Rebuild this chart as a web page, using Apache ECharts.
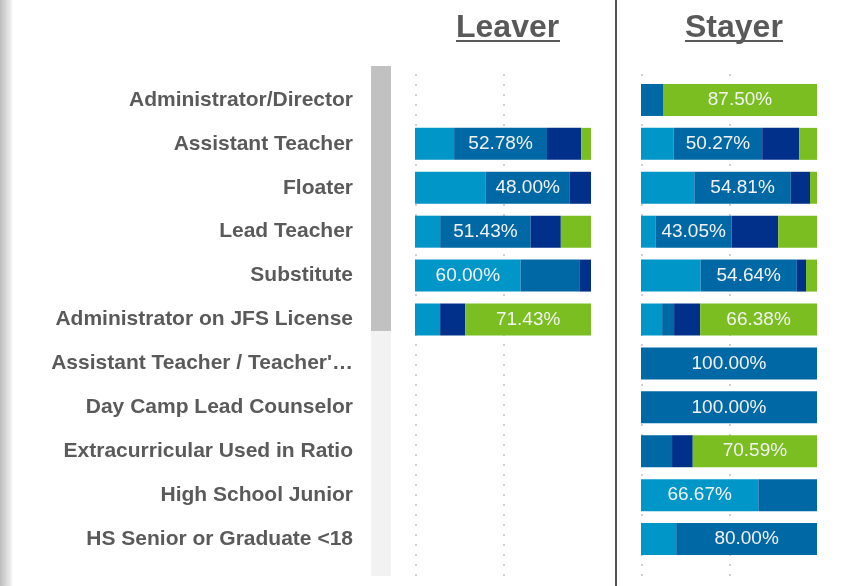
<!DOCTYPE html>
<html>
<head>
<meta charset="utf-8">
<script src="https://cdn.jsdelivr.net/npm/echarts@6/dist/echarts.min.js"></script>
<style>
  html, body { margin: 0; padding: 0; background: #fff; }
  #chart { width: 854px; height: 586px; }
</style>
</head>
<body>
<div id="chart"></div>
<script>
var categories = [
  'Administrator/Director',
  'Assistant Teacher',
  'Floater',
  'Lead Teacher',
  'Substitute',
  'Administrator on JFS License',
  'Assistant Teacher / Teacher\'\u2026',
  'Day Camp Lead Counselor',
  'Extracurricular Used in Ratio',
  'High School Junior',
  'HS Senior or Graduate <18'
]
var segmentNames = ['Segment 1', 'Segment 2', 'Segment 3', 'Segment 4']
var segmentColors = ['#0096C8', '#0068A5', '#00308A', '#7BBE21']

// percentages per segment, one value per category (null = no bar)
var leaver1 = [null, 22.22, 40.00, 14.29, 60.00, 14.29, null, null, null, null, null]
var leaver2 = [null, 52.78, 48.00, 51.43, 33.33, 0, null, null, null, null, null]
var leaver3 = [null, 19.44, 12.00, 17.14, 6.67, 14.29, null, null, null, null, null]
var leaver4 = [null, 5.56, 0, 17.14, 0, 71.43, null, null, null, null, null]

var stayer1 = [0, 18.60, 30.30, 8.40, 33.90, 12.00, 0, 0, 0, 66.67, 20.00]
var stayer2 = [12.50, 50.27, 54.81, 43.05, 54.64, 6.80, 100.00, 100.00, 17.65, 33.33, 80.00]
var stayer3 = [0, 21.00, 10.90, 26.50, 5.20, 14.82, 0, 0, 11.76, 0, 0]
var stayer4 = [87.50, 10.13, 3.99, 22.05, 6.26, 66.38, 0, 0, 70.59, 0, 0]

var leaverData = [leaver1, leaver2, leaver3, leaver4]
var stayerData = [stayer1, stayer2, stayer3, stayer4]

// only the biggest segment of each bar gets a label
function buildSeries(sets, stack, axisIndex) {
  return sets.map(function (vals, s) {
    return {
      name: segmentNames[s],
      type: 'bar',
      stack: stack,
      xAxisIndex: axisIndex,
      yAxisIndex: axisIndex,
      barWidth: 32,
      itemStyle: { color: segmentColors[s] },
      data: vals.map(function (v, i) {
        var max = Math.max.apply(null, sets.map(function (d) { return d[i] || 0 }))
        return {
          value: v,
          label: { show: v != null && v > 0 && v === max }
        }
      }),
      label: {
        position: 'inside',
        color: '#f2f2f2',
        fontFamily: 'Liberation Sans, Arial, sans-serif',
        fontSize: 19,
        formatter: function (p) { return p.value.toFixed(2) + '%' }
      }
    }
  })
}

var labelStyle = {
  fontFamily: 'Liberation Sans, Arial, sans-serif',
  fontWeight: 'bold',
  fontSize: 21,
  color: '#5a5a5a',
  padding: [8, 0, 0, 0]
}
var titleStyle = {
  fontFamily: 'Liberation Sans, Arial, sans-serif',
  fontSize: 32,
  fontWeight: 'bold',
  color: '#595959'
}

var chart = echarts.init(document.getElementById('chart'))
chart.setOption({
  animation: false,
  title: [
    { text: 'Leaver', left: 456, top: 12, padding: 0, textStyle: titleStyle },
    { text: 'Stayer', left: 685, top: 12, padding: 0, textStyle: titleStyle }
  ],
  grid: [
    { left: 415, width: 176, top: 78, height: 483 },
    { left: 641, width: 176, top: 78, height: 483 },
    { left: 416, width: 88, top: 74, height: 502 },
    { left: 642, width: 88, top: 74, height: 502 }
  ],
  xAxis: [
    { gridIndex: 0, type: 'value', min: 0, max: 100, show: false },
    { gridIndex: 1, type: 'value', min: 0, max: 100, show: false },
    { gridIndex: 2, type: 'value', min: 0, max: 50, interval: 50,
      axisLine: { show: false }, axisTick: { show: false }, axisLabel: { show: false },
      splitLine: { lineStyle: { color: '#cfcfcf', width: 2, type: [2, 8] } } },
    { gridIndex: 3, type: 'value', min: 0, max: 50, interval: 50,
      axisLine: { show: false }, axisTick: { show: false }, axisLabel: { show: false },
      splitLine: { lineStyle: { color: '#cfcfcf', width: 2, type: [2, 8] } } }
  ],
  yAxis: [
    { gridIndex: 0, type: 'category', data: categories, inverse: true,
      axisLine: { show: false }, axisTick: { show: false },
      axisLabel: Object.assign({ margin: 62 }, labelStyle) },
    { gridIndex: 1, type: 'category', data: categories, inverse: true, show: false },
    { gridIndex: 2, type: 'category', data: [''], show: false },
    { gridIndex: 3, type: 'category', data: [''], show: false }
  ],
  series: buildSeries(leaverData, 'leaver', 0).concat(buildSeries(stayerData, 'stayer', 1)),
  graphic: [
    // left page edge shading
    { type: 'rect', shape: { x: 0, y: 0, width: 13, height: 586 }, silent: true,
      style: { fill: new echarts.graphic.LinearGradient(0, 0, 1, 0, [
        { offset: 0, color: '#bdbdbd' }, { offset: 0.8, color: '#ececec' }, { offset: 1, color: '#ffffff' }]) } },
    // scrollbar
    { type: 'rect', shape: { x: 371, y: 66, width: 20, height: 510 }, silent: true, style: { fill: '#f2f2f2' } },
    { type: 'rect', shape: { x: 371, y: 66, width: 20, height: 265 }, silent: true, style: { fill: '#c1c1c1' } },
    // title underlines
    { type: 'rect', shape: { x: 456, y: 40, width: 104, height: 2 }, silent: true, style: { fill: '#595959' } },
    { type: 'rect', shape: { x: 685, y: 40, width: 98, height: 2 }, silent: true, style: { fill: '#595959' } },
    // panel separator
    { type: 'rect', shape: { x: 615, y: 0, width: 2, height: 586 }, silent: true, style: { fill: '#555555' } }
  ]
})
</script>
</body>
</html>
